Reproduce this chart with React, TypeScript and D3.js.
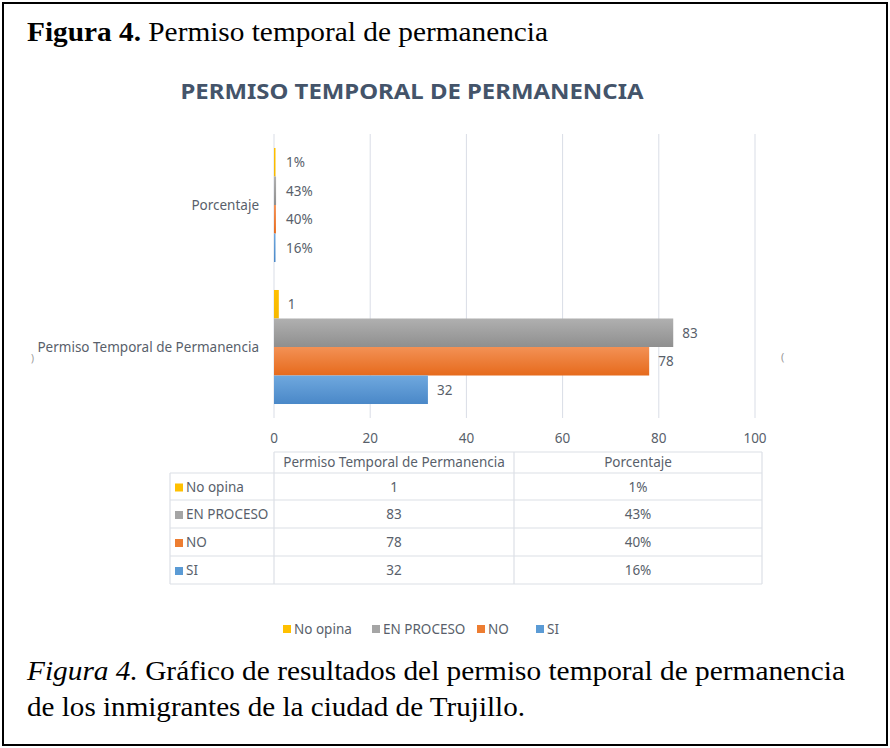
import { useEffect, useRef } from "react";
import * as d3 from "d3";

const series = ["No opina", "EN PROCESO", "NO", "SI"];
const colors = ["#ffc000", "#a5a5a5", "#ed7d31", "#5b9bd5"];
const groups = ["Porcentaje", "Permiso Temporal de Permanencia"];
const counts = [1, 83, 78, 32];
const percents = [0.01, 0.43, 0.4, 0.16];
const percentLabels = ["1%", "43%", "40%", "16%"];
const xTicks = [0, 20, 40, 60, 80, 100];

const FONT = "'Noto Sans', 'Open Sans', sans-serif";
const SERIF = "'Liberation Serif', 'Times New Roman', serif";
const TXT = "#595f6b";

export default function App() {
  const ref = useRef<SVGSVGElement>(null);

  useEffect(() => {
    const svg = d3.select(ref.current);
    svg.selectAll("*").remove();

    // gradients for the office-ish bar look
    const defs = svg.append("defs");
    const grad = [
      ["#ffc000", "#f5b800"],
      ["#b0b0b0", "#8f8f8f"],
      ["#f39155", "#e66a1c"],
      ["#6fa8de", "#4a88c8"],
    ];
    grad.forEach((g, i) => {
      const lg = defs.append("linearGradient").attr("id", `g${i}`).attr("x1", 0).attr("y1", 0).attr("x2", 0).attr("y2", 1);
      lg.append("stop").attr("offset", "0%").attr("stop-color", g[0]);
      lg.append("stop").attr("offset", "100%").attr("stop-color", g[1]);
    });

    svg.append("rect").attr("x", 3).attr("y", 3).attr("width", 884).attr("height", 742)
      .attr("fill", "#fff").attr("stroke", "#000").attr("stroke-width", 2);

    const cap = svg.append("text").attr("x", 27).attr("y", 41).attr("font-family", SERIF).attr("font-size", 27).attr("fill", "#000")
      .attr("textLength", 521).attr("lengthAdjust", "spacingAndGlyphs");
    cap.append("tspan").attr("font-weight", "bold").text("Figura 4.");
    cap.append("tspan").text(" Permiso temporal de permanencia");

    svg.append("text").attr("x", 412).attr("y", 99).attr("text-anchor", "middle")
      .attr("font-family", FONT).attr("font-size", 22).attr("font-weight", "bold").attr("fill", "#44546a")
      .attr("textLength", 463).attr("lengthAdjust", "spacingAndGlyphs")
      .text("PERMISO TEMPORAL DE PERMANENCIA");

    const x = d3.scaleLinear().domain([0, 100]).range([274, 755]);
    const y = d3.scaleBand().domain(groups).range([134, 418]).paddingInner(0.197).paddingOuter(0.0985);
    const ys = d3.scaleBand().domain(series).range([0, y.bandwidth()]);

    const grid = svg.append("g");
    grid.selectAll("line").data(xTicks).join("line")
      .attr("x1", (d) => x(d)).attr("x2", (d) => x(d)).attr("y1", 134).attr("y2", 418)
      .attr("stroke", "#d9dde6").attr("stroke-width", 1);
    grid.selectAll("text").data(xTicks).join("text")
      .attr("x", (d) => x(d)).attr("y", 443).attr("text-anchor", "middle")
      .attr("font-family", FONT).attr("font-size", 13.5).attr("fill", TXT).text((d) => d);

    const rows = [percents, counts];
    const lbls = [percentLabels, counts.map(String)];
    groups.forEach((gname, gi) => {
      const g = svg.append("g").attr("transform", `translate(0,${y(gname)})`);
      g.selectAll("rect").data(series).join("rect")
        .attr("x", x(0)).attr("y", (s) => ys(s)!)
        .attr("width", (_, i) => Math.max(1.5, x(rows[gi][i]) - x(0)))
        .attr("height", ys.bandwidth())
        .attr("fill", (_, i) => `url(#g${i})`);
      g.selectAll("text.v").data(series).join("text").attr("class", "v")
        .attr("x", (_, i) => Math.max(x(rows[gi][i]), x(0) + 3) + 9)
        .attr("y", (s) => ys(s)! + ys.bandwidth() / 2 + 5)
        .attr("font-family", FONT).attr("font-size", 13.5).attr("fill", TXT)
        .text((_, i) => lbls[gi][i]);
      svg.append("text").attr("x", 259).attr("y", y(gname)! + y.bandwidth() / 2 + 5)
        .attr("text-anchor", "end").attr("font-family", FONT).attr("font-size", 13.5).attr("fill", TXT)
        .text(gname);
    });
    // stray glyphs in the original picture
    svg.append("text").attr("x", 31).attr("y", 362).attr("font-family", FONT).attr("font-size", 10).attr("fill", "#999").text(")");
    svg.append("text").attr("x", 781).attr("y", 361).attr("font-family", FONT).attr("font-size", 11).attr("fill", "#999").text("(");

    // data table
    const colX = [170, 274, 514, 762];
    const rowY = [452, 473, 500, 528, 556, 584];
    const tb = svg.append("g").attr("stroke", "#dcdfe6").attr("stroke-width", 1.2);
    tb.append("line").attr("x1", colX[1]).attr("x2", colX[3]).attr("y1", rowY[0]).attr("y2", rowY[0]);
    rowY.slice(1).forEach((yy) => tb.append("line").attr("x1", colX[0]).attr("x2", colX[3]).attr("y1", yy).attr("y2", yy));
    tb.append("line").attr("x1", colX[0]).attr("x2", colX[0]).attr("y1", rowY[1]).attr("y2", rowY[5]);
    colX.slice(1).forEach((xx) => tb.append("line").attr("x1", xx).attr("x2", xx).attr("y1", rowY[0]).attr("y2", rowY[5]));

    const tText = (xx: number, yy: number, t: string, anchor = "middle") =>
      svg.append("text").attr("x", xx).attr("y", yy).attr("text-anchor", anchor)
        .attr("font-family", FONT).attr("font-size", 13.5).attr("fill", TXT).text(t);
    tText((colX[1] + colX[2]) / 2, 467, groups[1]);
    tText((colX[2] + colX[3]) / 2, 467, groups[0]);
    series.forEach((s, i) => {
      const cy = (rowY[i + 1] + rowY[i + 2]) / 2;
      svg.append("rect").attr("x", 175).attr("y", cy - 3).attr("width", 8).attr("height", 8).attr("fill", colors[i]);
      tText(186, cy + 5, s, "start");
      tText((colX[1] + colX[2]) / 2, cy + 5, String(counts[i]));
      tText((colX[2] + colX[3]) / 2, cy + 5, percentLabels[i]);
    });

    // legend
    const legX = [283, 372, 477, 536];
    series.forEach((s, i) => {
      svg.append("rect").attr("x", legX[i]).attr("y", 625).attr("width", 8).attr("height", 8).attr("fill", colors[i]);
      svg.append("text").attr("x", legX[i] + 11).attr("y", 634).attr("font-family", FONT).attr("font-size", 13.5).attr("fill", TXT).text(s);
    });

    const c2 = svg.append("text").attr("x", 27).attr("y", 680).attr("font-family", SERIF).attr("font-size", 27).attr("fill", "#000")
      .attr("textLength", 818).attr("lengthAdjust", "spacingAndGlyphs");
    c2.append("tspan").attr("font-style", "italic").text("Figura 4.");
    c2.append("tspan").text(" Gráfico de resultados del permiso temporal de permanencia");
    svg.append("text").attr("x", 27).attr("y", 716).attr("font-family", SERIF).attr("font-size", 27).attr("fill", "#000")
      .attr("textLength", 498).attr("lengthAdjust", "spacingAndGlyphs")
      .text("de los inmigrantes de la ciudad de Trujillo.");
  }, []);

  return (
    <svg ref={ref} width={890} height={748}
      style={{ position: "absolute", left: 0, top: 0, background: "#fff" }} />
  );
}
